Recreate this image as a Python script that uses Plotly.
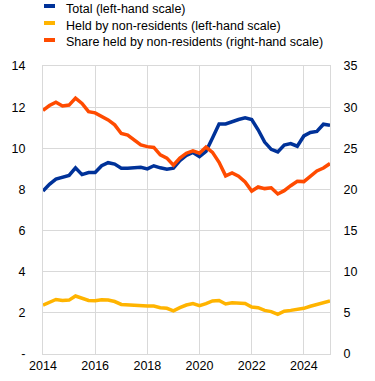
import pandas as pd
import plotly.graph_objects as go

dates = pd.date_range("2014-01-01", "2025-01-01", freq="QS")

total = [7.92, 8.25, 8.50, 8.60, 8.68, 9.05, 8.72, 8.82, 8.82, 9.15,
         9.30, 9.23, 9.03, 9.03, 9.05, 9.08, 9.00, 9.15, 9.05, 8.98,
         9.03, 9.40, 9.65, 9.80, 9.60, 9.85, 10.50, 11.18, 11.18, 11.30,
         11.40, 11.48, 11.40, 10.90, 10.30, 9.95, 9.82, 10.16, 10.23, 10.10,
         10.60, 10.77, 10.82, 11.17, 11.12]

held_nonres = [2.38, 2.50, 2.65, 2.60, 2.62, 2.82, 2.70, 2.60, 2.59, 2.64,
               2.62, 2.55, 2.41, 2.38, 2.35, 2.33, 2.33, 2.33, 2.25, 2.22,
               2.10, 2.25, 2.38, 2.45, 2.35, 2.45, 2.58, 2.60, 2.43, 2.49,
               2.47, 2.46, 2.28, 2.25, 2.12, 2.06, 1.93, 2.08, 2.12, 2.15,
               2.22, 2.32, 2.42, 2.50, 2.58]

share_nonres = [29.6, 30.2, 30.6, 30.15, 30.25, 31.1, 30.45, 29.45, 29.3, 28.9,
                28.45, 27.85, 26.8, 26.6, 26.0, 25.4, 25.2, 25.1, 24.2, 23.8,
                22.95, 23.8, 24.4, 24.7, 24.4, 25.15, 24.5, 23.3, 21.65, 22.0,
                21.6, 20.9, 19.8, 20.3, 20.1, 20.2, 19.45, 19.85, 20.45, 21.0,
                20.95, 21.6, 22.25, 22.6, 23.15]

series_names = ["Total (left-hand scale)",
                "Held by non-residents (left-hand scale)",
                "Share held by non-residents (right-hand scale)"]
colors = ["#003299", "#FFB400", "#FF4B00"]

left_ticks = [0, 2, 4, 6, 8, 10, 12, 14]
left_ticktext = ["-", "2", "4", "6", "8", "10", "12", "14"]
right_ticks = [0, 5, 10, 15, 20, 25, 30, 35]

FONT = "Arial, Liberation Sans, sans-serif"
GRID = "#d9d9d9"

fig = go.Figure()
fig.add_trace(go.Scatter(x=dates, y=total, mode="lines", name=series_names[0],
                         line=dict(color=colors[0], width=3.5), yaxis="y"))
fig.add_trace(go.Scatter(x=dates, y=held_nonres, mode="lines", name=series_names[1],
                         line=dict(color=colors[1], width=3.5), yaxis="y"))
fig.add_trace(go.Scatter(x=dates, y=share_nonres, mode="lines", name=series_names[2],
                         line=dict(color=colors[2], width=3.5), yaxis="y2"))

W, H = 375, 381
ML, MR, MT, MB = 43, 45, 66, 27
PW, PH = W - ML - MR, H - MT - MB


def px_x(px):
    return (px - ML) / PW


def px_y(py):
    return 1 - (py - MT) / PH


shapes = []
annotations = []
legend_rows = [(4, 8, 9.5), (21, 25, 25.5), (38, 42, 42)]
for (y0, y1, yc), name, col in zip(legend_rows, series_names, colors):
    shapes.append(dict(type="rect", xref="paper", yref="paper",
                       x0=px_x(44), x1=px_x(55), y0=px_y(y1), y1=px_y(y0),
                       fillcolor=col, line=dict(width=0)))
    annotations.append(dict(xref="paper", yref="paper", x=px_x(64), y=px_y(yc),
                            text=name, showarrow=False, xanchor="left", yanchor="middle",
                            font=dict(family=FONT, size=12.5, color="#000000")))

fig.update_layout(
    width=W, height=H,
    margin=dict(l=ML, r=MR, t=MT, b=MB, pad=0, autoexpand=False),
    paper_bgcolor="white", plot_bgcolor="white",
    showlegend=False,
    hovermode=False,
    font=dict(family=FONT, size=12, color="#000000"),
    shapes=shapes, annotations=annotations,
    xaxis=dict(type="date", range=[dates[0], dates[-1]],
               tick0="2014-01-01", dtick="M24", tickformat="%Y",
               showgrid=True, gridcolor=GRID, gridwidth=1,
               showline=True, linecolor=GRID, linewidth=1, mirror=True,
               ticks="", zeroline=False, tickfont=dict(size=12.5),
               automargin=False),
    yaxis=dict(range=[0, 14], tickvals=left_ticks, ticktext=left_ticktext,
               showgrid=True, gridcolor=GRID, gridwidth=1,
               showline=True, linecolor=GRID, linewidth=1,
               zeroline=False, ticks="", ticklabelstandoff=14,
               tickfont=dict(size=12.5), automargin=False),
    yaxis2=dict(range=[0, 35], tickvals=right_ticks, overlaying="y", side="right",
                showgrid=False, showline=True, linecolor=GRID, linewidth=1,
                zeroline=False, ticks="", ticklabelstandoff=10,
                tickfont=dict(size=12.5), automargin=False),
)

# remove the browser's default 8px body margin so the chart sits at the page origin
fig.write_html("out.html",
               config={"displayModeBar": False},
               post_script="document.body.style.margin='0';document.body.style.overflow='hidden';")
